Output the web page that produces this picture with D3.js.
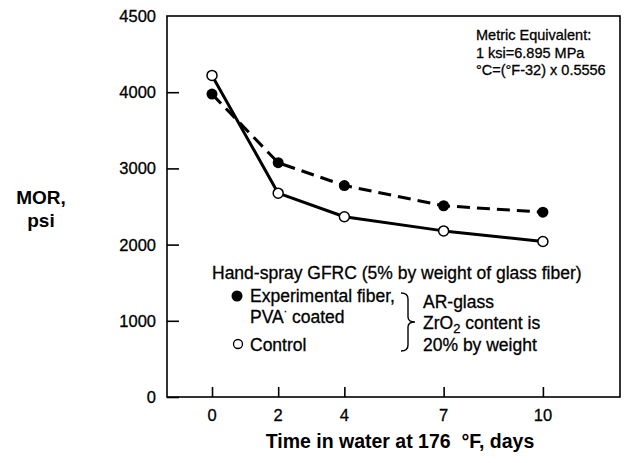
<!DOCTYPE html>
<html>
<head>
<meta charset="utf-8">
<script src="https://cdn.jsdelivr.net/npm/d3@7/dist/d3.min.js"></script>
<style>
  html, body { margin: 0; padding: 0; background: #fff; }
  svg { display: block; }
  text { font-family: "Liberation Sans", Arial, Helvetica, sans-serif; fill: #000; white-space: pre; }
  .reg { stroke: #000; stroke-width: 0.3px; }
</style>
</head>
<body>
<svg id="chart" width="624" height="463"></svg>
<script>
// ---- data ----
const days = [0, 2, 4, 7, 10];
const experimental = [3975, 3075, 2775, 2510, 2425];   // PVA coated, filled markers, dashed
const control = [4220, 2675, 2365, 2180, 2040];        // open markers, solid
const yTickValues = [0, 1000, 2000, 3000, 4000, 5000];
const yTickLabels = ["0", "1000", "2000", "3000", "4000", "4500"];
const xTickValues = [0, 2, 4, 7, 10];
const xTickLabels = ["0", "2", "4", "7", "10"];

const svg = d3.select("#chart");
const L = 167, R = 620, T = 16, B = 397;

const x = d3.scaleLinear().domain([-1.36, 12.33]).range([L, R]);
const y = d3.scaleLinear().domain([0, 5000]).range([B, T]);

// frame
svg.append("rect").attr("x", L).attr("y", T).attr("width", R - L).attr("height", B - T)
  .attr("fill", "none").attr("stroke", "#000").attr("stroke-width", 1.6);

// y axis ticks (inward)
const yAxis = d3.axisRight(y).tickValues(yTickValues.slice(0, 5)).tickSize(12)
  .tickFormat(() => "");
const gy = svg.append("g").attr("transform", `translate(${L},0)`).call(yAxis);
gy.select(".domain").remove();
gy.selectAll(".tick line").attr("stroke", "#000").attr("stroke-width", 1.6);

// y tick labels
svg.append("g").selectAll("text").data(yTickValues).join("text")
  .attr("class", "reg")
  .attr("x", 156).attr("y", d => y(d)).attr("dy", "0.36em")
  .attr("text-anchor", "end").attr("font-size", 16.5)
  .text((d, i) => yTickLabels[i]);

// x axis ticks (inward)
const xAxis = d3.axisTop(x).tickValues(xTickValues).tickSize(10).tickFormat(() => "");
const gx = svg.append("g").attr("transform", `translate(0,${B})`).call(xAxis);
gx.select(".domain").remove();
gx.selectAll(".tick line").attr("stroke", "#000").attr("stroke-width", 1.6);

svg.append("g").selectAll("text").data(xTickValues).join("text")
  .attr("class", "reg")
  .attr("x", d => x(d)).attr("y", 421)
  .attr("text-anchor", "middle").attr("font-size", 16.5)
  .text((d, i) => xTickLabels[i]);

// axis titles
svg.append("text").attr("x", 400).attr("y", 448).attr("text-anchor", "middle")
  .attr("font-size", 19.5).attr("font-weight", "bold")
  .text("Time in water at 176  °F, days");
const yt = svg.append("text").attr("text-anchor", "middle")
  .attr("font-size", 19).attr("font-weight", "bold");
yt.append("tspan").attr("x", 41).attr("y", 204).text("MOR,");
yt.append("tspan").attr("x", 41).attr("y", 227).text("psi");

// lines
const line = d3.line().x((d, i) => x(days[i])).y(d => y(d));
svg.append("path").datum(control).attr("d", line)
  .attr("fill", "none").attr("stroke", "#000").attr("stroke-width", 3)
  .attr("stroke-linejoin", "round");
svg.append("path").datum(experimental).attr("d", line)
  .attr("fill", "none").attr("stroke", "#000").attr("stroke-width", 3)
  .attr("stroke-dasharray", "13,7");

// markers
svg.append("g").selectAll("circle").data(experimental).join("circle")
  .attr("cx", (d, i) => x(days[i])).attr("cy", d => y(d)).attr("r", 5.5)
  .attr("fill", "#000");
svg.append("g").selectAll("circle").data(control).join("circle")
  .attr("cx", (d, i) => x(days[i])).attr("cy", d => y(d)).attr("r", 5)
  .attr("fill", "#fff").attr("stroke", "#000").attr("stroke-width", 1.5);

// metric note
const note = ["Metric Equivalent:", "1 ksi=6.895 MPa", "°C=(°F-32) x 0.5556"];
svg.append("g").selectAll("text").data(note).join("text")
  .attr("class", "reg")
  .attr("x", 476).attr("y", (d, i) => 40 + i * 17.5)
  .attr("font-size", 14.5).text(d => d);

// legend
const fs = 17.5;
svg.append("text").attr("class", "reg").attr("x", 212).attr("y", 279).attr("font-size", fs)
  .text("Hand-spray GFRC (5% by weight of glass fiber)");
svg.append("circle").attr("cx", 237).attr("cy", 296).attr("r", 5.5).attr("fill", "#000");
svg.append("text").attr("class", "reg").attr("x", 250).attr("y", 301.5).attr("font-size", fs)
  .text("Experimental fiber,");
const pva = svg.append("text").attr("class", "reg").attr("x", 250).attr("y", 322.5).attr("font-size", fs);
pva.append("tspan").text("PVA");
pva.append("tspan").attr("font-size", 10).attr("dy", -8).text("·");
pva.append("tspan").attr("dy", 8).text(" coated");
svg.append("circle").attr("cx", 238).attr("cy", 344).attr("r", 4.5)
  .attr("fill", "#fff").attr("stroke", "#000").attr("stroke-width", 1.3);
svg.append("text").attr("class", "reg").attr("x", 250).attr("y", 350.5).attr("font-size", fs)
  .text("Control");

// brace
svg.append("path")
  .attr("d", "M401,293 Q408,293 408,299 L408,317 Q408,322 415,322 Q408,322 408,327 L408,345 Q408,351 401,351")
  .attr("fill", "none").attr("stroke", "#000").attr("stroke-width", 1.4);

svg.append("text").attr("class", "reg").attr("x", 423).attr("y", 308).attr("font-size", fs)
  .text("AR-glass");
const zr = svg.append("text").attr("class", "reg").attr("x", 423).attr("y", 329).attr("font-size", fs);
zr.append("tspan").text("ZrO");
zr.append("tspan").attr("font-size", 13).attr("dy", 4).text("2");
zr.append("tspan").attr("dy", -4).text(" content is");
svg.append("text").attr("class", "reg").attr("x", 423).attr("y", 350.5).attr("font-size", fs)
  .text("20% by weight");
</script>
</body>
</html>
